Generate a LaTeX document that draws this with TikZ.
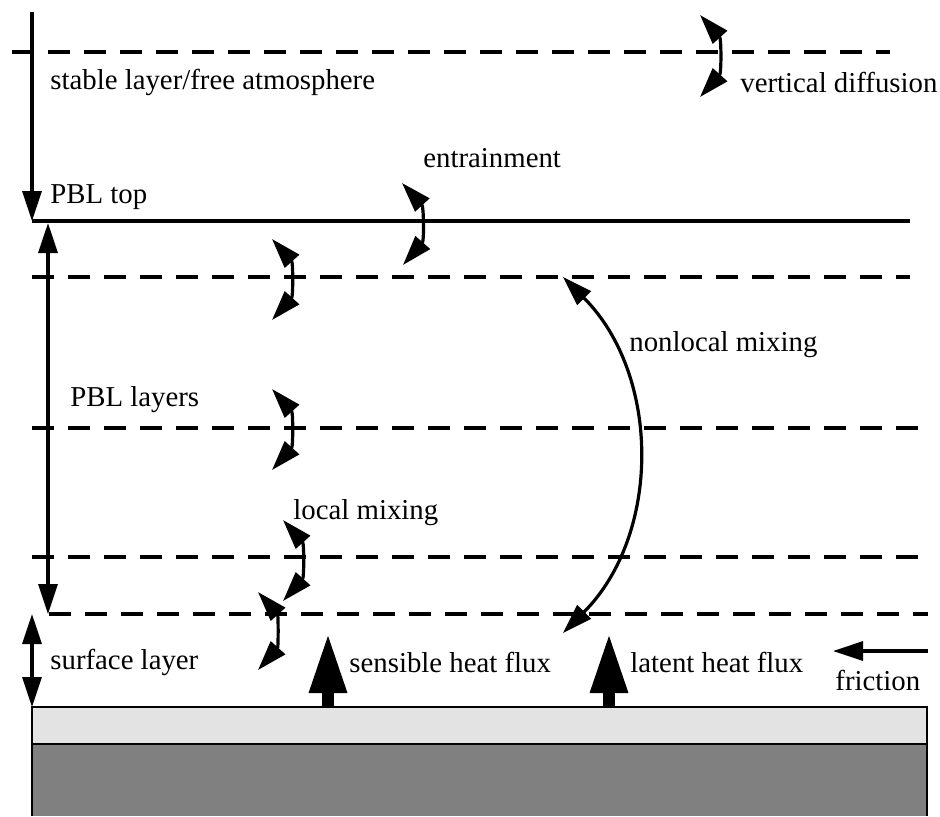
\documentclass[tikz,border=0pt]{standalone}
\usepackage{fontspec}
\setmainfont{Liberation Serif}
\usetikzlibrary{arrows.meta}
\begin{document}
\begin{tikzpicture}[x=0.5pt,y=-0.5pt,
  lbl/.style={anchor=west,inner sep=0pt,font=\fontsize{14.4}{17}\selectfont},
  ln/.style={line width=1.6pt},
  dashln/.style={line width=1.7pt,dash pattern=on 11pt off 7pt},
  tip/.style={-{Triangle[length=15pt,width=9.5pt]}},
  dbl/.style={line width=1.6pt,{Triangle[length=15pt,width=9.5pt]}-{Triangle[length=15pt,width=9.5pt]}},
  curv/.style={dbl,bend left=42},
  flux/.style={line width=6pt,-{Triangle[length=30pt,width=17.5pt]}},
]
\useasboundingbox (0,0) rectangle (940,816);

% ground
\fill[fill={rgb,255:red,227;green,227;blue,227}] (32,707) rectangle (927,744);
\fill[fill={rgb,255:red,128;green,128;blue,128}] (32,744) rectangle (927,816);
\draw[line width=1.2pt] (32,816) -- (32,707) -- (927,707) -- (927,816);
\draw[line width=1.2pt] (32,744) -- (927,744);

% layer lines
\draw[dashln] (12,52) -- (890,52);
\draw[dashln] (32,277) -- (910,277);
\draw[dashln] (32,428) -- (928,428);
\draw[dashln] (32,557) -- (928,557);
\draw[dashln] (49,614) -- (928,614);

% coordinates
\coordinate (topstart) at (32,12);
\coordinate (pbltop) at (32,221);
\coordinate (pblend) at (910,221);
\coordinate (pblA) at (48,223);
\coordinate (pblB) at (48,614);
\coordinate (sfcA) at (32,614);
\coordinate (sfcB) at (32,707);

\draw[ln,tip] (topstart) -- (pbltop);
\draw[ln] (pbltop) -- (pblend);
\draw[dbl] (pblA) -- (pblB);
\draw[dbl] (sfcA) -- (sfcB);

% labels
\node[lbl] (stable) at (50,82) {stable layer/free atmosphere};
\node[lbl] (vdiff) at (740,82) {vertical diffusion};
\node[lbl] (entr) at (423,158) {entrainment};
\node[lbl] (pbltoplbl) at (50,197) {PBL top};
\node[lbl] (nonloc) at (629,345) {nonlocal mixing};
\node[lbl] (pbllay) at (70,400) {PBL layers};
\node[lbl] (locmix) at (293,513) {local mixing};
\node[lbl] (sfclay) at (50,662) {surface layer};
\node[lbl] (sens) at (349,662) {sensible heat flux};
\node[lbl] (lat) at (630,662) {latent heat flux};
\node[lbl] (fric) at (835,680) {friction};

% curved double arrows
\coordinate (vdA) at (700,15);  \coordinate (vdB) at (700,97);
\coordinate (enA) at (402,183); \coordinate (enB) at (403,265);
\coordinate (lmA1) at (272,239); \coordinate (lmB1) at (272,320);
\coordinate (lmA2) at (272,389); \coordinate (lmB2) at (272,470);
\coordinate (lmA3) at (283,520); \coordinate (lmB3) at (283,601);
\coordinate (lmA4) at (258,592); \coordinate (lmB4) at (258,670);
\coordinate (nlA) at (563,277); \coordinate (nlB) at (563,633);

\draw[curv] (vdA) to (vdB);
\draw[curv] (enA) to (enB);
\draw[curv] (lmA1) to (lmB1);
\draw[curv] (lmA2) to (lmB2);
\draw[curv] (lmA3) to (lmB3);
\draw[curv] (lmA4) to (lmB4);
\draw[dbl,bend left=45] (nlA) to (nlB);

% fluxes
\coordinate (sensA) at (328,707); \coordinate (sensB) at (328,633);
\coordinate (latA) at (609,707);  \coordinate (latB) at (609,633);
\draw[flux] (sensA) -- (sensB);
\draw[flux] (latA) -- (latB);

% friction
\coordinate (frA) at (928,651); \coordinate (frB) at (833,651);
\draw[ln,tip] (frA) -- (frB);
\end{tikzpicture}
\end{document}
